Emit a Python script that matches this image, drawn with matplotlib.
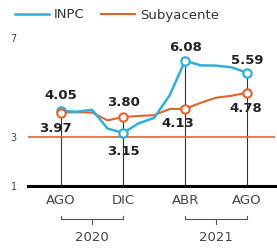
import matplotlib.pyplot as plt
import matplotlib.transforms as mtransforms

# inflacion anual, ago 2020 - ago 2021
meses = list(range(13))
inpc = [4.05, 4.01, 4.09, 3.33, 3.15, 3.54, 3.76, 4.67, 6.08, 5.89, 5.88, 5.81, 5.59]
subyacente = [3.97, 3.99, 3.98, 3.66, 3.80, 3.84, 3.87, 4.12, 4.13, 4.37, 4.58, 4.66, 4.78]
marcas = [0, 4, 8, 12]
etiquetas_x = ['AGO', 'DIC', 'ABR', 'AGO']
anios = ['2020', '2021']

azul = '#2fb0d8'
naranja = '#e2622e'

fig = plt.figure(figsize=(2.77, 2.5), dpi=100)
ax = fig.add_axes([0.101, 0.256, 0.892, 0.592])
ax.set_xlim(-2.13, 13.8)
ax.set_ylim(1, 7)

# lineas verticales desde los marcadores
for m in marcas:
    top = max(inpc[m], subyacente[m])
    ax.plot([m, m], [1, top], color='#333333', lw=0.8, zorder=1)

ax.axhline(3, color=naranja, lw=1.2, zorder=1)
ax.axhline(1, color='black', lw=2.2, zorder=3, clip_on=False)

l1, = ax.plot(meses, inpc, color=azul, lw=1.8, zorder=4, label='INPC')
l2, = ax.plot(meses, subyacente, color=naranja, lw=1.5, zorder=3, label='Subyacente')
ax.plot(marcas, [inpc[m] for m in marcas], 'o', ms=6, mfc='white', mec=azul, mew=1.6, zorder=5)
ax.plot(marcas, [subyacente[m] for m in marcas], 'o', ms=6, mfc='white', mec=naranja, mew=1.5, zorder=5)

# etiquetas de valores
txt = dict(fontsize=9.5, fontweight='bold', color='#222222', ha='center')
ax.annotate('%.2f' % inpc[0], (0, inpc[0]), xytext=(0, 6), textcoords='offset points', va='bottom', **txt)
ax.annotate('%.2f' % subyacente[0], (0, subyacente[0]), xytext=(-4, -7), textcoords='offset points', va='top', **txt)
ax.annotate('%.2f' % subyacente[4], (4, subyacente[4]), xytext=(0, 6), textcoords='offset points', va='bottom', **txt)
ax.annotate('%.2f' % inpc[4], (4, inpc[4]), xytext=(0, -8.5), textcoords='offset points', va='top', **txt)
ax.annotate('%.2f' % inpc[8], (8, inpc[8]), xytext=(0, 5), textcoords='offset points', va='bottom', **txt)
ax.annotate('%.2f' % subyacente[8], (8, subyacente[8]), xytext=(-5, -6), textcoords='offset points', va='top', **txt)
ax.annotate('%.2f' % inpc[12], (12, inpc[12]), xytext=(0, 4), textcoords='offset points', va='bottom', **txt)
ax.annotate('%.2f' % subyacente[12], (12, subyacente[12]), xytext=(-1, -7), textcoords='offset points', va='top', **txt)

ax.set_xticks(marcas)
ax.set_xticklabels(etiquetas_x, fontsize=9.5, color='#444444')
ax.set_yticks([1, 3, 7])
ax.set_yticklabels(['1', '3', '7'], fontsize=7, color='#444444')
ax.tick_params(axis='x', length=0, pad=6)
ax.tick_params(axis='y', length=0, pad=8)
for s in ax.spines.values():
    s.set_visible(False)

# llaves de los anios
trans = mtransforms.blended_transform_factory(ax.transData, ax.transAxes)
for (a, b), anio in zip([(0, 4), (8, 12)], anios):
    ax.plot([a, a, b, b], [-0.2, -0.225, -0.225, -0.2], color='#555555', lw=0.8, transform=trans, clip_on=False)
    ax.plot([(a + b) / 2] * 2, [-0.225, -0.26], color='#555555', lw=0.8, transform=trans, clip_on=False)
    ax.text((a + b) / 2, -0.345, anio, transform=trans, ha='center', va='center', fontsize=9.5, color='#444444')

fig.legend(handles=[l1, l2], loc='center left', bbox_to_anchor=(0.01, 0.94), ncol=2, frameon=False,
           fontsize=9.5, handlelength=2.6, columnspacing=1.2, handletextpad=0.4, labelcolor='#333333')

fig.savefig('out.png', dpi=100)
